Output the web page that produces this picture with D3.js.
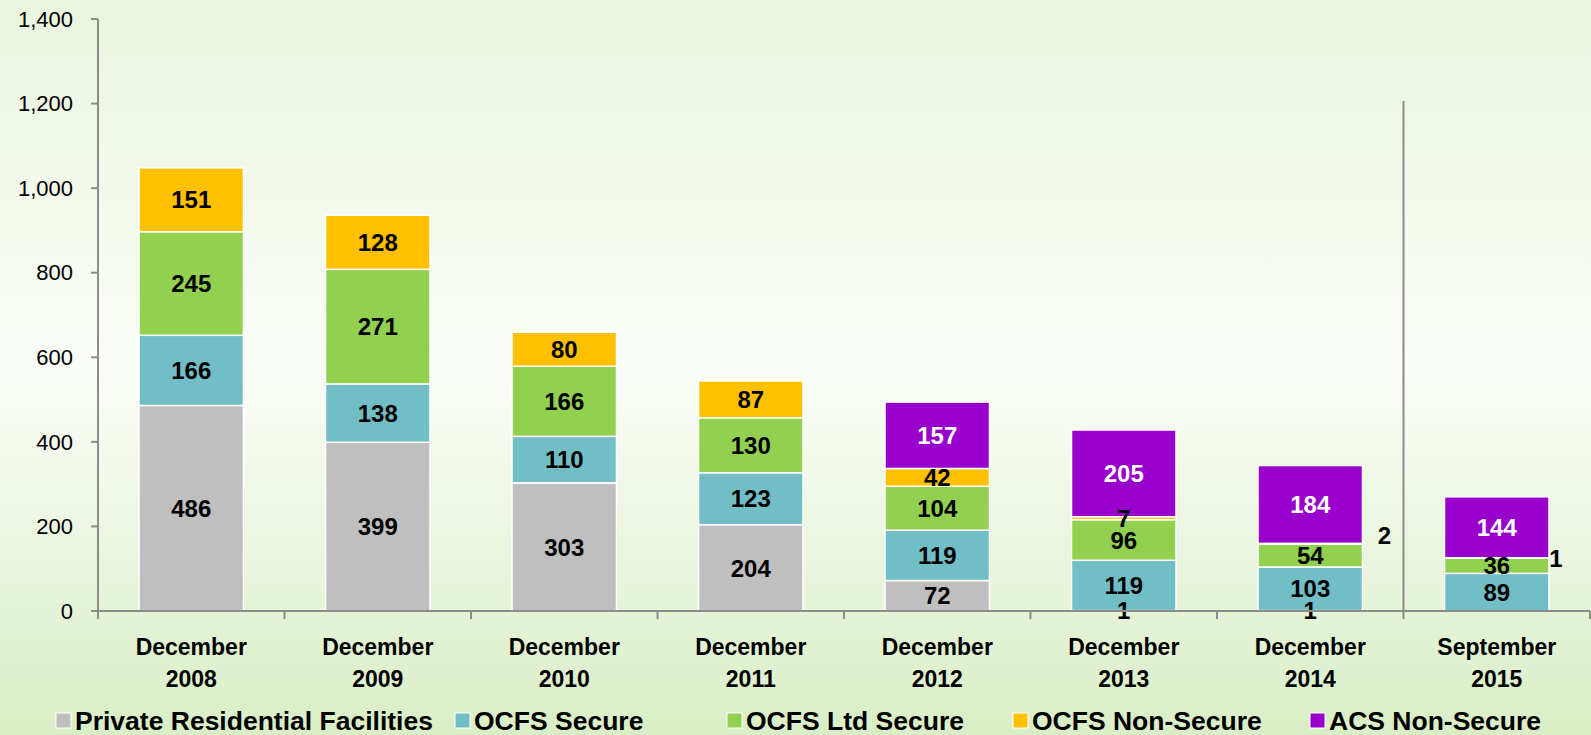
<!DOCTYPE html>
<html lang="en">
<head>
<meta charset="utf-8" />
<style>
  body { margin: 0; }
  svg { display: block; }
  .tick-label { font-family: "Liberation Sans", Arial, sans-serif; font-size: 22px; fill: #000; }
  .cat-label { font-family: "Liberation Sans", Arial, sans-serif; font-size: 23px; font-weight: bold; fill: #000; text-anchor: middle; }
  .val-label { font-family: "Liberation Sans", Arial, sans-serif; font-size: 24px; font-weight: bold; text-anchor: middle; }
  .legend-label { font-family: "Liberation Sans", Arial, sans-serif; font-size: 26.5px; font-weight: bold; fill: #000; }
</style>
</head>
<body>
<script src="https://cdn.jsdelivr.net/npm/d3@7"></script>
<script>
// chart data
var categories = ["December 2008", "December 2009", "December 2010", "December 2011",
                  "December 2012", "December 2013", "December 2014", "September 2015"];
var seriesNames = ["Private Residential Facilities", "OCFS Secure", "OCFS Ltd Secure",
                   "OCFS Non-Secure", "ACS Non-Secure"];
var privateRes  = [486, 399, 303, 204, 72, 1, 1, 0];
var ocfsSecure  = [166, 138, 110, 123, 119, 119, 103, 89];
var ocfsLtd     = [245, 271, 166, 130, 104, 96, 54, 36];
var ocfsNonSec  = [151, 128, 80, 87, 42, 7, 2, 1];
var acsNonSec   = [0, 0, 0, 0, 157, 205, 184, 144];
var yTicks = [0, 200, 400, 600, 800, 1000, 1200, 1400];

var colors = ["#bfbfbf", "#72bec6", "#92d050", "#ffc000", "#9900cc"];
var labelColors = ["#000", "#000", "#000", "#000", "#fff"];

var width = 1591, height = 735;
var margin = { left: 98, right: 1, top: 19, bottom: 124 };

var svg = d3.select("body").append("svg")
    .attr("width", width)
    .attr("height", height);

// background gradient
var defs = svg.append("defs");
var grad = defs.append("linearGradient")
    .attr("id", "bg").attr("x1", 0).attr("y1", 0).attr("x2", 0).attr("y2", 1);
grad.append("stop").attr("offset", "0%").attr("stop-color", "#e9f5de");
grad.append("stop").attr("offset", "50%").attr("stop-color", "#fbfdf8");
grad.append("stop").attr("offset", "100%").attr("stop-color", "#d9eec6");
svg.append("rect").attr("width", width).attr("height", height).attr("fill", "url(#bg)");

var x = d3.scaleBand()
    .domain(categories)
    .range([margin.left, width - margin.right])
    .paddingInner(0.44)
    .paddingOuter(0.22);

var y = d3.scaleLinear()
    .domain([0, 1400])
    .range([height - margin.bottom, margin.top]);

var table = categories.map(function (c, i) {
    return { cat: c, s0: privateRes[i], s1: ocfsSecure[i], s2: ocfsLtd[i], s3: ocfsNonSec[i], s4: acsNonSec[i] };
});
var keys = ["s0", "s1", "s2", "s3", "s4"];
var stacked = d3.stack().keys(keys)(table);

// bars
var layer = svg.selectAll(".layer")
    .data(stacked)
  .enter().append("g")
    .attr("class", "layer")
    .attr("fill", function (d, i) { return colors[i]; });

layer.selectAll("rect")
    .data(function (d) { return d.filter(function (e) { return e[1] - e[0] > 0; }); })
  .enter().append("rect")
    .attr("x", function (d) { return x(d.data.cat); })
    .attr("width", x.bandwidth())
    .attr("y", function (d) { return y(d[1]); })
    .attr("height", function (d) { return y(d[0]) - y(d[1]); })
    .attr("stroke", "#fff")
    .attr("stroke-width", 1.5);

// value labels
stacked.forEach(function (s, si) {
    s.forEach(function (d) {
        var v = d[1] - d[0];
        if (v <= 0) return;
        var cx = x(d.data.cat) + x.bandwidth() / 2;
        var cy = y((d[0] + d[1]) / 2);
        // tiny non-secure values sit beside the bar
        if (si === 3 && v < 5) {
            cx = x(d.data.cat) + x.bandwidth() + (d.data.cat === "December 2014" ? 22 : 7);
            cy = cy - (d.data.cat === "December 2014" ? 8 : 0);
        }
        svg.append("text")
            .attr("class", "val-label")
            .attr("x", cx)
            .attr("y", cy)
            .attr("dy", "0.36em")
            .attr("fill", labelColors[si])
            .text(v);
    });
});

// y axis
var axisColor = "#8c8c8c";
svg.append("line")
    .attr("x1", margin.left).attr("x2", margin.left)
    .attr("y1", y(1400)).attr("y2", y(0))
    .attr("stroke", axisColor).attr("stroke-width", 2);
yTicks.forEach(function (t) {
    svg.append("line")
        .attr("x1", margin.left - 7).attr("x2", margin.left)
        .attr("y1", y(t)).attr("y2", y(t))
        .attr("stroke", axisColor).attr("stroke-width", 2);
    svg.append("text")
        .attr("class", "tick-label")
        .attr("x", 73).attr("y", y(t))
        .attr("dy", "0.35em")
        .attr("text-anchor", "end")
        .text(d3.format(",")(t));
});

// x axis
svg.append("line")
    .attr("x1", margin.left).attr("x2", width - margin.right)
    .attr("y1", y(0)).attr("y2", y(0))
    .attr("stroke", axisColor).attr("stroke-width", 2);
var step = x.step();
var boundaries = d3.range(categories.length + 1).map(function (i) {
    return x(categories[0]) - (x.paddingInner() * step) / 2 - 0 + i * step - (x.paddingOuter() - x.paddingInner() / 2) * step;
});
boundaries.forEach(function (bx) {
    svg.append("line")
        .attr("x1", bx).attr("x2", bx)
        .attr("y1", y(0)).attr("y2", y(0) + 8)
        .attr("stroke", axisColor).attr("stroke-width", 2);
});

// separator before the 2015 bar
svg.append("line")
    .attr("x1", boundaries[7]).attr("x2", boundaries[7])
    .attr("y1", 101).attr("y2", y(0))
    .attr("stroke", axisColor).attr("stroke-width", 2);

// category labels
categories.forEach(function (c) {
    var parts = c.split(" ");
    var cx = x(c) + x.bandwidth() / 2;
    var t = svg.append("text")
        .attr("class", "cat-label")
        .attr("x", cx)
        .attr("y", 655);
    t.append("tspan").attr("x", cx).text(parts[0]);
    t.append("tspan").attr("x", cx).attr("dy", 32).text(parts[1]);
});

// legend
var legendX = [56, 455, 727, 1013, 1310];
var legend = svg.selectAll(".legend")
    .data(seriesNames)
  .enter().append("g")
    .attr("class", "legend")
    .attr("transform", function (d, i) { return "translate(" + legendX[i] + ",730)"; });
legend.append("rect")
    .attr("x", 0).attr("y", -17)
    .attr("width", 15).attr("height", 15)
    .attr("fill", function (d, i) { return colors[i]; })
    .attr("stroke", "#fff").attr("stroke-width", 1);
legend.append("text")
    .attr("class", "legend-label")
    .attr("x", 19).attr("y", 0)
    .text(function (d) { return d; });
</script>
</body>
</html>
